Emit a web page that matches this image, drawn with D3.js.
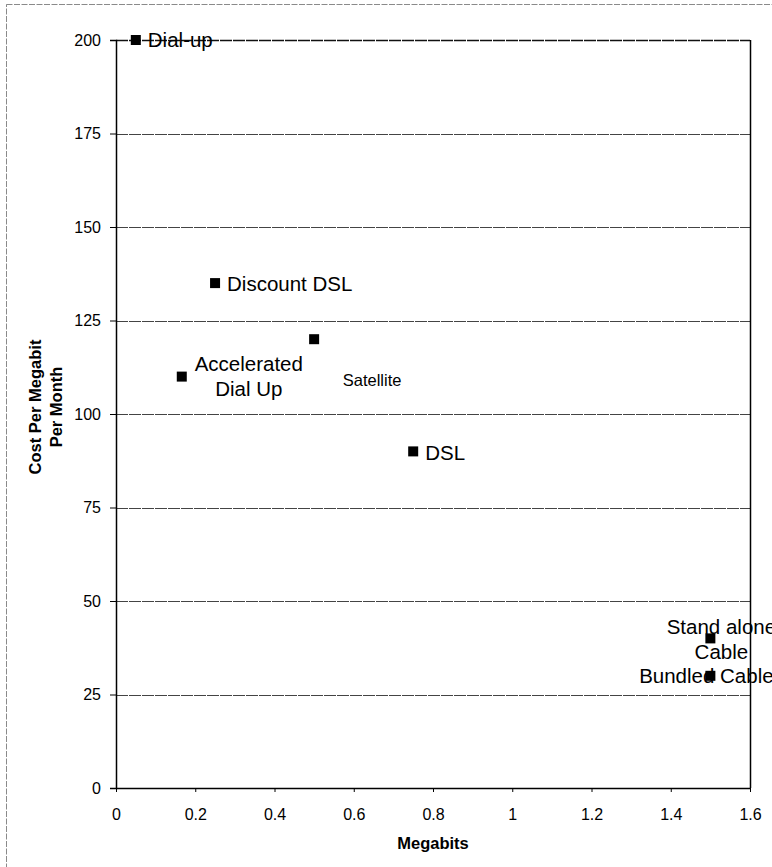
<!DOCTYPE html>
<html>
<head>
<meta charset="utf-8">
<script src="https://cdn.jsdelivr.net/npm/d3@7"></script>
<style>
  html, body { margin: 0; padding: 0; background: #fff; }
  svg { display: block; font-family: "Liberation Sans", Arial, sans-serif; }
</style>
</head>
<body>
<svg id="chart" width="772" height="867"></svg>
<script>
// Internet access options: speed vs. cost per megabit
const services = ["Dial-up", "Discount DSL", "Satellite", "Accelerated Dial Up", "DSL", "Stand alone Cable", "Bundled Cable"];
const megabits = [0.05, 0.25, 0.5, 0.166, 0.75, 1.5, 1.5];
const costPerMegabit = [200, 135, 120, 110, 90, 40, 30];
const xTicks = [0, 0.2, 0.4, 0.6, 0.8, 1, 1.2, 1.4, 1.6];
const yTicks = [0, 25, 50, 75, 100, 125, 150, 175, 200];

// label placement for each point: lines, offset, anchor, size
const labelLayout = {
  "Dial-up":             { lines: ["Dial-up"], dx: 12, dy: 0, anchor: "start", size: 20.5 },
  "Discount DSL":        { lines: ["Discount DSL"], dx: 12, dy: 1, anchor: "start", size: 20.5 },
  "Satellite":           { lines: ["Satellite"], dx: 58, dy: 41, anchor: "middle", size: 16.5 },
  "Accelerated Dial Up": { lines: ["Accelerated", "Dial Up"], dx: 67, dy: 0, anchor: "middle", size: 20.5 },
  "DSL":                 { lines: ["DSL"], dx: 12, dy: 1, anchor: "start", size: 20.5 },
  "Stand alone Cable":   { lines: ["Stand alone", "Cable"], dx: 11, dy: 1, anchor: "middle", size: 20.5 },
  "Bundled Cable":       { lines: ["Bundled Cable"], dx: -4, dy: 0, anchor: "middle", size: 20.5 }
};

const svg = d3.select("#chart");
const plotLeft = 116, plotRight = 750, plotTop = 40, plotBottom = 788;

const x = d3.scaleLinear().domain([0, 1.6]).range([plotLeft, plotRight]);
const y = d3.scaleLinear().domain([0, 200]).range([plotBottom, plotTop]);

// outer chart frame
svg.append("rect")
  .attr("x", 6.5).attr("y", 4.5).attr("width", 800).attr("height", 900)
  .attr("fill", "none").attr("stroke", "#8a8a8a").attr("stroke-width", 1)
  .attr("stroke-dasharray", "6,1.5");

// horizontal gridlines
svg.append("g")
  .selectAll("line")
  .data(yTicks.filter(d => d > 0))
  .join("line")
  .attr("x1", plotLeft).attr("x2", plotRight)
  .attr("y1", d => Math.round(y(d)) + 0.5).attr("y2", d => Math.round(y(d)) + 0.5)
  .attr("stroke", d => d === 200 ? "#111" : "#444").attr("stroke-width", d => d === 200 ? 1.5 : 1)
  .attr("stroke-dasharray", "12,1");

// right border of plot area
svg.append("line")
  .attr("x1", plotRight + 0.5).attr("x2", plotRight + 0.5)
  .attr("y1", plotTop).attr("y2", plotBottom)
  .attr("stroke", "#000").attr("stroke-width", 1.5);

// y axis
const yAxis = d3.axisLeft(y).tickValues(yTicks).tickSize(6).tickPadding(9).tickFormat(d3.format("d"));
const gy = svg.append("g").attr("transform", `translate(${plotLeft},0)`).call(yAxis);
gy.select(".domain").attr("stroke", "#000").attr("stroke-width", 1.5);
gy.selectAll(".tick line").attr("stroke", "#000");
gy.selectAll(".tick text").attr("font-size", 16).attr("fill", "#000")
  .attr("font-family", "'Liberation Sans', Arial, sans-serif");

// x axis
const xAxis = d3.axisBottom(x).tickValues(xTicks).tickSize(4).tickPadding(17).tickSizeOuter(0)
  .tickFormat(d => d === 0 ? "0" : d3.format("~g")(d));
const gx = svg.append("g").attr("transform", `translate(0,${plotBottom})`).call(xAxis);
gx.select(".domain").attr("stroke", "#000").attr("stroke-width", 1.5);
gx.selectAll(".tick line").attr("stroke", "#000");
gx.selectAll(".tick text").attr("font-size", 16).attr("fill", "#000")
  .attr("font-family", "'Liberation Sans', Arial, sans-serif");

// axis titles
svg.append("text")
  .attr("x", 433).attr("y", 849)
  .attr("text-anchor", "middle")
  .attr("font-size", 16.5).attr("font-weight", "bold")
  .text("Megabits");

const yTitle = svg.append("text")
  .attr("transform", "translate(46,407) rotate(-90)")
  .attr("text-anchor", "middle")
  .attr("font-size", 16.5).attr("font-weight", "bold");
yTitle.append("tspan").attr("x", 0).attr("dy", "-0.3em").text("Cost Per Megabit");
yTitle.append("tspan").attr("x", 0).attr("dy", "1.3em").text("Per Month");

// markers
const points = services.map((s, i) => ({ name: s, mb: megabits[i], cost: costPerMegabit[i] }));
svg.append("g")
  .selectAll("rect")
  .data(points)
  .join("rect")
  .attr("x", d => x(d.mb) - 5).attr("y", d => y(d.cost) - 5)
  .attr("width", 10).attr("height", 10)
  .attr("fill", "#000");

// data labels
const labels = svg.append("g")
  .selectAll("text")
  .data(points)
  .join("text")
  .attr("text-anchor", d => labelLayout[d.name].anchor)
  .attr("font-size", d => labelLayout[d.name].size)
  .attr("fill", "#000");

labels.each(function(d) {
  const L = labelLayout[d.name];
  const lh = 25;
  const cx = x(d.mb) + L.dx;
  const cy = y(d.cost) + L.dy - (L.lines.length - 1) * lh / 2;
  const t = d3.select(this);
  L.lines.forEach((line, k) => {
    t.append("tspan")
      .attr("x", cx)
      .attr("y", cy + k * lh)
      .attr("dy", "0.36em")
      .text(line);
  });
});
</script>
</body>
</html>
